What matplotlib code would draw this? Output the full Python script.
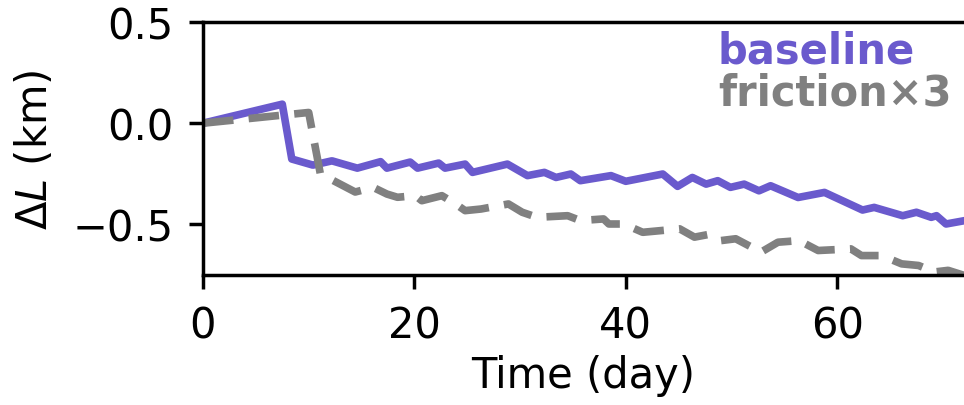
import matplotlib
matplotlib.use('Agg')
import matplotlib.pyplot as plt

# baseline run (purple)
base_day = [0, 7.5, 8.4, 10.4, 12.2, 14.6, 16.8, 17.4, 19.6, 20.3, 22.3, 22.9,
            24.8, 25.5, 28.8, 30.7, 32.3, 33.4, 34.8, 35.7, 38.6, 40.0, 43.5,
            44.9, 46.3, 47.6, 48.7, 49.9, 51.2, 52.6, 53.7, 56.3, 58.8, 62.4,
            63.5, 66.2, 67.5, 68.9, 69.4, 70.3, 72.1]
base_dl = [0, 0.094, -0.177, -0.207, -0.186, -0.222, -0.19, -0.222, -0.192, -0.222, -0.197, -0.222,
           -0.202, -0.243, -0.202, -0.259, -0.243, -0.268, -0.251, -0.284, -0.259, -0.287, -0.251,
           -0.312, -0.268, -0.301, -0.284, -0.317, -0.301, -0.334, -0.309, -0.367, -0.342, -0.429,
           -0.416, -0.457, -0.44, -0.465, -0.457, -0.498, -0.481]

# friction x3 run (grey dashed)
fric_day = [0, 10.0, 11.1, 14.4, 16.1, 17.4, 18.4, 20.1, 20.7, 22.6, 23.9, 24.8,
            26.3, 28.9, 30.2, 31.6, 34.5, 35.7, 37.9, 38.4, 39.8, 41.6, 45.1,
            46.5, 47.8, 49.0, 50.4, 52.8, 54.4, 56.4, 58.2, 61.3, 62.3, 64.2,
            66.1, 67.7, 69.2, 70.5, 72.5]
fric_dl = [0, 0.053, -0.25, -0.34, -0.317, -0.35, -0.366, -0.358, -0.383, -0.358, -0.399, -0.432,
           -0.424, -0.399, -0.44, -0.465, -0.457, -0.481, -0.473, -0.498, -0.498, -0.539, -0.522,
           -0.563, -0.55, -0.58, -0.571, -0.637, -0.588, -0.58, -0.629, -0.621, -0.654, -0.654,
           -0.695, -0.703, -0.735, -0.727, -0.76]

purple = '#6a5acd'
grey = '#808080'
fs = 30

fig = plt.figure(figsize=(9.64, 4.06), dpi=100)
ax = fig.add_axes([203/964, 1 - 276/406, 1 - 203/964, (276 - 23)/406])

ax.plot(base_day, base_dl, color=purple, lw=5.5, label='baseline')
ax.plot(fric_day, fric_dl, color=grey, lw=5.5, ls=(0, (4, 2)), label='friction×3')

ax.set_xlim(0, 72)
ax.set_ylim(-0.75, 0.5)
ax.set_xticks([0, 20, 40, 60])
ax.set_yticks([-0.5, 0.0, 0.5])
ax.set_xlabel('Time (day)', fontsize=fs, labelpad=6)
ax.set_ylabel(r'$\Delta L$ (km)', fontsize=fs, labelpad=12)
ax.tick_params(labelsize=fs, length=10, width=2.5, pad=11)
for side in ['left', 'bottom', 'top']:
    ax.spines[side].set_linewidth(2.5)
ax.spines['right'].set_visible(False)

# text-only legend, labels coloured like their lines
leg = ax.legend(loc='upper right', bbox_to_anchor=(1.033, 1.117), frameon=False,
                handlelength=0, handletextpad=0, labelspacing=0.0,
                prop={'size': fs, 'weight': 'bold'})
for h, t in zip(leg.legend_handles, leg.get_texts()):
    h.set_visible(False)
    t.set_color(h.get_color())

fig.savefig('out.png', dpi=100)
